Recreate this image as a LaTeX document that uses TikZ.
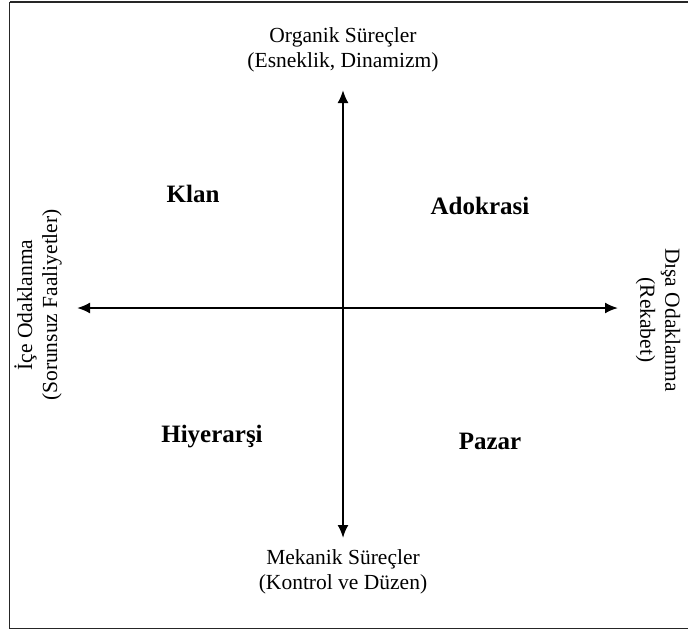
\documentclass[tikz,border=0pt]{standalone}
\usepackage{fontspec}
\setmainfont{Liberation Serif}
\usetikzlibrary{arrows.meta}
\begin{document}
\begin{tikzpicture}[x=1pt,y=-1pt,
  axislabel/.style={align=center,font=\fontsize{21.5}{25}\selectfont,inner sep=0pt},
  quadrant/.style={font=\fontsize{25}{28}\selectfont\bfseries,inner sep=0pt},
  axis/.style={line width=2pt,{Latex[length=13pt,width=11pt]}-{Latex[length=13pt,width=11pt]}}]
  \useasboundingbox (0,0) rectangle (688,632);
  % outer frame, running past the right edge
  \draw[line width=1.8pt,black!85] (9.5,2) -- (700,2) (9.5,2) -- (9.5,628.5) -- (700,628.5);

  % axis end points
  \coordinate (L) at (77,308);
  \coordinate (R) at (618,308);
  \coordinate (T) at (343,90);
  \coordinate (B) at (343,538);
  \draw[axis] (L) -- (R);
  \draw[axis] (T) -- (B);

  % axis labels
  \node[axislabel] (top) at (343,50) {Organik Süreçler\\(Esneklik, Dinamizm)};
  \node[axislabel] (bottom) at (343,572) {Mekanik Süreçler\\(Kontrol ve Düzen)};
  \node[axislabel,rotate=90] (left) at (38,305) {İçe Odaklanma\\(Sorunsuz Faaliyetler)};
  \node[axislabel,rotate=-90] (right) at (658,320) {Dışa Odaklanma\\(Rekabet)};

  % quadrant names
  \node[quadrant] (klan) at (193,194) {Klan};
  \node[quadrant] (adokrasi) at (480,206) {Adokrasi};
  \node[quadrant] (hiyerarsi) at (212,437) {Hiyerarşi};
  \node[quadrant] (pazar) at (490,441) {Pazar};
\end{tikzpicture}
\end{document}
